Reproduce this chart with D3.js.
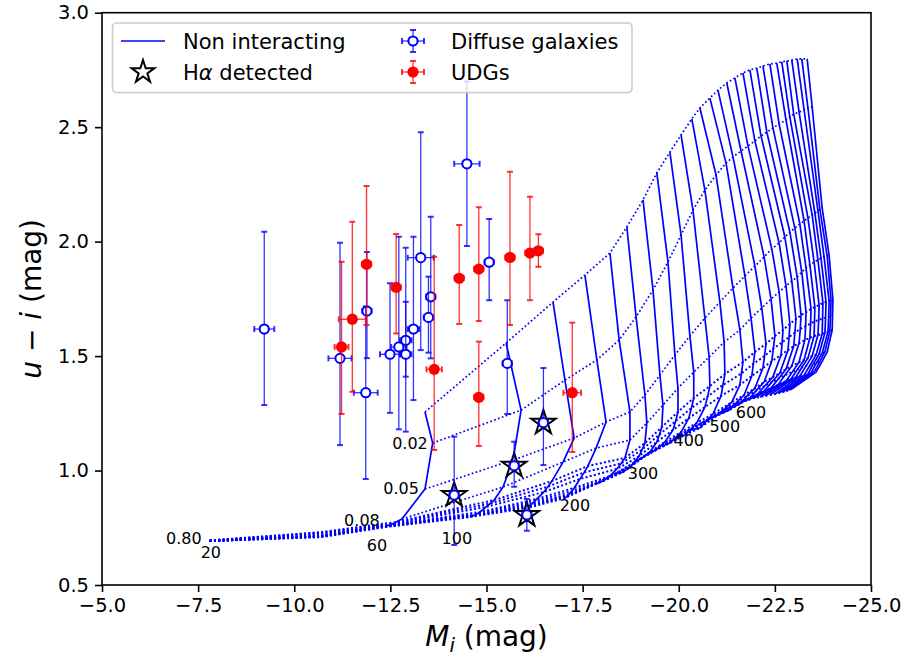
<!DOCTYPE html>
<html>
<head>
<meta charset="utf-8">
<script src="https://cdn.jsdelivr.net/npm/d3@7"></script>
<style>
  body { margin: 0; background: #fff; }
  svg { display: block; font-family: "DejaVu Sans", sans-serif; }
</style>
</head>
<body>
<svg id="chart" width="903" height="660"></svg>
<script>
// ---------------------------------------------------------------
// Model grid ("Non interacting"): one array per iso-line (dotted),
// one entry per track column (solid). Entries are [M_i, u-i].
// Columns 0 and 1 (lowest tracks) only exist in the lower band.
// ---------------------------------------------------------------
const lvlTop = [null, null,
  [-13.40,1.256],[-15.51,1.557],[-16.73,1.736],[-17.56,1.854],[-18.21,1.950],[-18.65,2.064],
  [-19.07,2.182],[-19.43,2.300],[-19.77,2.391],[-20.06,2.466],[-20.34,2.536],[-20.55,2.584],
  [-20.81,2.627],[-21.02,2.662],[-21.25,2.693],[-21.46,2.715],[-21.67,2.737],[-21.85,2.750],
  [-22.03,2.758],[-22.19,2.767],[-22.37,2.776],[-22.55,2.780],[-22.68,2.785],[-22.81,2.789],
  [-22.94,2.793],[-23.08,2.798],[-23.20,2.798],[-23.34,2.798]];

const lvl002 = [null, null,
  [-13.60,1.120],[-15.90,1.264],[-17.04,1.395],[-17.87,1.483],[-18.45,1.570],[-18.89,1.671],
  [-19.33,1.789],[-19.72,1.911],[-20.06,2.029],[-20.37,2.138],[-20.68,2.225],[-20.97,2.291],
  [-21.23,2.343],[-21.41,2.370],[-21.62,2.396],[-21.80,2.418],[-21.98,2.440],[-22.14,2.461],
  [-22.29,2.479],[-22.45,2.496],[-22.61,2.514],[-22.79,2.531],[-22.89,2.544],[-22.99,2.557],
  [-23.13,2.566],[-23.26,2.575],[-23.36,2.584],[-23.47,2.588]];

const lvl005 = [null, null,
  [-13.40,0.919],[-15.69,1.046],[-17.28,1.142],[-18.11,1.212],[-18.73,1.256],[-19.12,1.330],
  [-19.51,1.417],[-19.90,1.505],[-20.29,1.588],[-20.68,1.666],[-21.07,1.736],[-21.41,1.797],
  [-21.72,1.850],[-21.98,1.893],[-22.22,1.933],[-22.42,1.968],[-22.61,1.994],[-22.76,2.020],
  [-22.89,2.042],[-23.02,2.059],[-23.15,2.077],[-23.26,2.090],[-23.36,2.103],[-23.47,2.116],
  [-23.54,2.125],[-23.62,2.134],[-23.67,2.142],[-23.73,2.147]];

const lvl008 = [null, null,
  [-12.80,0.788],[-15.43,0.928],[-16.99,1.037],[-17.85,1.098],[-18.73,1.133],[-19.17,1.208],
  [-19.59,1.286],[-19.98,1.360],[-20.39,1.430],[-20.79,1.496],[-21.18,1.561],[-21.59,1.614],
  [-21.88,1.666],[-22.16,1.710],[-22.40,1.749],[-22.61,1.780],[-22.79,1.806],[-22.94,1.828],
  [-23.08,1.845],[-23.20,1.867],[-23.31,1.885],[-23.41,1.898],[-23.52,1.911],[-23.62,1.920],
  [-23.70,1.928],[-23.78,1.933],[-23.86,1.937],[-23.91,1.941]];

const lvl016 = [[-7.80,0.695],[-10.70,0.731],
  [-12.65,0.775],[-15.20,0.871],[-16.70,0.954],[-17.64,1.020],[-18.60,1.055],[-19.12,1.120],
  [-19.56,1.190],[-19.98,1.256],[-20.39,1.317],[-20.81,1.369],[-21.20,1.422],[-21.67,1.474],
  [-21.98,1.518],[-22.27,1.553],[-22.50,1.588],[-22.71,1.614],[-22.89,1.640],[-23.05,1.662],
  [-23.18,1.679],[-23.31,1.692],[-23.44,1.706],[-23.54,1.714],[-23.65,1.723],[-23.75,1.732],
  [-23.83,1.736],[-23.91,1.740],[-23.96,1.745],[-24.01,1.745]];

const lvl024 = [[-7.80,0.694],[-10.70,0.728],
  [-12.60,0.770],[-15.10,0.856],[-16.60,0.930],[-17.54,0.992],[-18.50,1.031],[-19.05,1.092],
  [-19.50,1.158],[-19.92,1.216],[-20.33,1.273],[-20.75,1.323],[-21.15,1.374],[-21.63,1.424],
  [-21.94,1.466],[-22.23,1.500],[-22.46,1.533],[-22.69,1.560],[-22.87,1.583],[-23.02,1.603],
  [-23.16,1.618],[-23.30,1.631],[-23.43,1.642],[-23.53,1.651],[-23.64,1.658],[-23.74,1.664],
  [-23.82,1.668],[-23.90,1.672],[-23.95,1.677],[-24.00,1.680]];

const lvl032 = [[-7.80,0.694],[-10.70,0.725],
  [-12.54,0.766],[-14.99,0.841],[-16.49,0.906],[-17.43,0.963],[-18.39,1.007],[-18.97,1.063],
  [-19.43,1.125],[-19.85,1.177],[-20.26,1.229],[-20.68,1.277],[-21.10,1.326],[-21.59,1.374],
  [-21.90,1.413],[-22.19,1.448],[-22.42,1.478],[-22.66,1.505],[-22.84,1.526],[-22.99,1.544],
  [-23.13,1.557],[-23.28,1.570],[-23.41,1.579],[-23.52,1.588],[-23.62,1.592],[-23.73,1.596],
  [-23.80,1.601],[-23.88,1.605],[-23.93,1.609],[-23.99,1.614]];

const lvl040 = [[-7.80,0.693],[-10.70,0.718],
  [-12.47,0.762],[-14.83,0.819],[-16.31,0.876],[-17.28,0.924],[-18.21,0.976],[-18.76,1.020],
  [-19.25,1.081],[-19.64,1.125],[-20.06,1.168],[-20.47,1.208],[-20.89,1.247],[-21.38,1.299],
  [-21.70,1.330],[-21.98,1.360],[-22.22,1.387],[-22.45,1.409],[-22.63,1.426],[-22.79,1.443],
  [-22.94,1.457],[-23.13,1.474],[-23.26,1.483],[-23.36,1.491],[-23.47,1.500],[-23.57,1.505],
  [-23.65,1.509],[-23.73,1.513],[-23.80,1.518],[-23.86,1.518]];

const lvl048 = [[-7.80,0.692],[-10.70,0.716],
  [-12.44,0.760],[-14.77,0.812],[-16.25,0.865],[-17.22,0.910],[-18.12,0.965],[-18.66,1.006],
  [-19.15,1.068],[-19.53,1.108],[-19.92,1.144],[-20.32,1.182],[-20.72,1.216],[-21.20,1.271],
  [-21.50,1.297],[-21.78,1.326],[-22.02,1.350],[-22.24,1.370],[-22.42,1.386],[-22.60,1.402],
  [-22.76,1.416],[-22.96,1.432],[-23.09,1.442],[-23.20,1.450],[-23.31,1.456],[-23.42,1.461],
  [-23.50,1.466],[-23.58,1.470],[-23.66,1.474],[-23.72,1.474]];

const lvl056 = [[-7.80,0.692],[-10.70,0.714],
  [-12.41,0.758],[-14.70,0.806],[-16.18,0.854],[-17.15,0.897],[-18.03,0.954],[-18.55,0.993],
  [-19.04,1.055],[-19.41,1.090],[-19.77,1.120],[-20.16,1.155],[-20.55,1.186],[-21.02,1.243],
  [-21.31,1.264],[-21.59,1.291],[-21.83,1.313],[-22.03,1.330],[-22.22,1.347],[-22.40,1.360],
  [-22.58,1.374],[-22.79,1.391],[-22.92,1.400],[-23.05,1.409],[-23.15,1.413],[-23.26,1.417],
  [-23.36,1.422],[-23.44,1.426],[-23.52,1.430],[-23.57,1.430]];

const lvl064 = [[-7.80,0.692],[-10.70,0.712],
  [-12.39,0.756],[-14.66,0.803],[-16.14,0.848],[-17.11,0.891],[-17.96,0.950],[-18.48,0.990],
  [-18.96,1.048],[-19.34,1.084],[-19.70,1.116],[-20.07,1.151],[-20.44,1.182],[-20.85,1.228],
  [-21.13,1.251],[-21.39,1.276],[-21.63,1.298],[-21.83,1.315],[-22.02,1.331],[-22.20,1.343],
  [-22.37,1.355],[-22.56,1.368],[-22.69,1.375],[-22.82,1.383],[-22.93,1.387],[-23.04,1.391],
  [-23.14,1.396],[-23.22,1.400],[-23.30,1.404],[-23.36,1.405]];

const lvl072 = [[-7.80,0.692],[-10.70,0.711],
  [-12.38,0.755],[-14.61,0.800],[-16.09,0.842],[-17.08,0.886],[-17.89,0.945],[-18.41,0.988],
  [-18.89,1.040],[-19.27,1.078],[-19.63,1.111],[-19.99,1.146],[-20.32,1.177],[-20.67,1.214],
  [-20.94,1.238],[-21.20,1.262],[-21.43,1.284],[-21.64,1.301],[-21.82,1.315],[-22.00,1.325],
  [-22.17,1.336],[-22.34,1.344],[-22.47,1.351],[-22.60,1.356],[-22.72,1.360],[-22.83,1.365],
  [-22.93,1.369],[-23.01,1.373],[-23.09,1.378],[-23.15,1.381]];

const lvl080 = [[-7.80,0.692],[-10.70,0.709],
  [-12.36,0.753],[-14.57,0.797],[-16.05,0.836],[-17.04,0.880],[-17.82,0.941],[-18.34,0.985],
  [-18.81,1.033],[-19.20,1.072],[-19.56,1.107],[-19.90,1.142],[-20.21,1.173],[-20.50,1.199],
  [-20.76,1.225],[-21.00,1.247],[-21.23,1.269],[-21.44,1.286],[-21.62,1.299],[-21.80,1.308],
  [-21.96,1.317],[-22.11,1.321],[-22.24,1.326],[-22.37,1.330],[-22.50,1.334],[-22.61,1.339],
  [-22.71,1.343],[-22.79,1.347],[-22.87,1.352],[-22.94,1.356]];

// Grid annotations: text, M_i, u-i (text centre)
const gridLabelText = ["0.80", "20", "0.08", "60", "100", "0.05", "0.02", "200", "300", "400", "500", "600"];
const gridLabelMi   = [-7.13, -7.83, -11.76, -12.15, -14.23, -12.78, -13.01, -17.30, -19.07, -20.26, -21.20, -21.88];
const gridLabelUI   = [0.705, 0.645, 0.784, 0.675, 0.705, 0.924, 1.120, 0.849, 0.989, 1.133, 1.194, 1.256];

// ---------------------------------------------------------------
// Diffuse galaxies (open blue circles); last four are Hα detected
// ---------------------------------------------------------------
const diffuseMi    = [-9.22, -11.19, -11.89, -11.86, -12.49, -12.72, -12.90, -12.90, -13.10, -13.29, -13.55, -13.49, -14.49, -15.07, -15.54, -14.16, -15.72, -16.48, -16.05];
const diffuseUI    = [1.618, 1.490, 1.697, 1.340, 1.508, 1.540, 1.569, 1.508, 1.618, 1.930, 1.759, 1.669, 2.340, 1.910, 1.468, 0.893, 1.021, 1.209, 0.806];
const diffuseUIlo  = [1.286, 1.111, 1.491, 0.963, 1.252, 1.180, 1.170, 1.410, 1.308, 1.526, 1.490, 1.515, 1.981, 1.744, 1.247, 0.675, 0.929, 1.024, 0.737];
const diffuseUIhi  = [2.043, 1.995, 1.955, 1.717, 1.818, 2.021, 1.973, 1.737, 2.021, 2.478, 2.109, 1.847, 2.700, 2.099, 1.744, 1.148, 1.126, 1.448, 0.876];
const diffuseMiErr = [0.26, 0.30, 0.12, 0.31, 0.26, 0.20, 0.15, 0.15, 0.15, 0.34, 0.12, 0.12, 0.33, 0.12, 0.12, 0.12, 0.12, 0.12, 0.12];
const diffuseHa    = [false, false, false, false, false, false, false, false, false, false, false, false, false, false, false, true, true, true, true];

// UDGs (filled red circles)
const udgMi    = [-11.23, -11.51, -11.88, -12.65, -13.64, -14.29, -14.80, -14.80, -15.61, -16.13, -16.35, -17.23];
const udgUI    = [1.540, 1.661, 1.901, 1.800, 1.442, 1.840, 1.880, 1.320, 1.931, 1.950, 1.960, 1.340];
const udgUIlo  = [1.247, 1.344, 1.636, 1.599, 1.090, 1.640, 1.653, 1.107, 1.636, 1.744, 1.890, 1.081];
const udgUIhi  = [1.912, 2.087, 2.243, 2.033, 1.934, 2.073, 2.150, 1.563, 2.305, 2.196, 2.032, 1.646];
const udgMiErr = [0.18, 0.35, 0.12, 0.12, 0.20, 0.12, 0.12, 0.12, 0.12, 0.12, 0.12, 0.23];

// Axis ticks
const xTickValues = [-5, -7.5, -10, -12.5, -15, -17.5, -20, -22.5, -25];
const yTickValues = [0.5, 1.0, 1.5, 2.0, 2.5, 3.0];

// Colours
const BLUE = "#0000ff";
const RED = "#ff0000";

// ---------------------------------------------------------------
const svg = d3.select("#chart");
const plot = { left: 102, right: 871, top: 12.7, bottom: 585 };

const x = d3.scaleLinear().domain([-5, -25]).range([plot.left, plot.right]);
const y = d3.scaleLinear().domain([0.5, 3.0]).range([plot.bottom, plot.top]);

svg.append("defs").append("clipPath").attr("id", "plotclip")
  .append("rect")
  .attr("x", plot.left).attr("y", plot.top)
  .attr("width", plot.right - plot.left).attr("height", plot.bottom - plot.top);

const g = svg.append("g").attr("clip-path", "url(#plotclip)");

// --- model grid ---
const upperLevels = [lvlTop, lvl002, lvl005, lvl008];
const bandLevels = [lvl016, lvl024, lvl032, lvl040, lvl048, lvl056, lvl064, lvl072, lvl080];
const levels = upperLevels.concat(bandLevels);
const gridLine = d3.line()
  .defined(d => d != null)
  .x(d => x(d[0]))
  .y(d => y(d[1]));

// dotted iso-lines; the crowded lower band uses slightly heavier dots
upperLevels.forEach(lv => {
  g.append("path")
    .attr("d", gridLine(lv))
    .attr("fill", "none")
    .attr("stroke", BLUE)
    .attr("stroke-width", 1.7)
    .attr("stroke-dasharray", "1.7,2.4");
});
bandLevels.forEach(lv => {
  g.append("path")
    .attr("d", gridLine(lv))
    .attr("fill", "none")
    .attr("stroke", BLUE)
    .attr("stroke-width", 2.0)
    .attr("stroke-dasharray", "2,2.3");
});

// solid tracks (one per column)
const nCols = lvl080.length;
for (let i = 0; i < nCols; i++) {
  const pts = levels.map(lv => lv[i]).filter(p => p != null);
  if (pts.length < levels.length) continue;
  g.append("path")
    .attr("d", gridLine(pts))
    .attr("fill", "none")
    .attr("stroke", BLUE)
    .attr("stroke-width", 1.7)
    .attr("stroke-linejoin", "round");
}

// grid annotations
gridLabelText.forEach((t, i) => {
  svg.append("text")
    .attr("x", x(gridLabelMi[i]))
    .attr("y", y(gridLabelUI[i]))
    .attr("text-anchor", "middle")
    .attr("dy", "0.36em")
    .attr("font-size", 16)
    .attr("fill", "#000")
    .text(t);
});

// --- Hα detected stars (beneath the circles) ---
const starSym = d3.symbol().type(d3.symbolStar);
diffuseMi.forEach((m, i) => {
  if (!diffuseHa[i]) return;
  g.append("path")
    .attr("d", starSym.size(185)())
    .attr("transform", `translate(${x(m)},${y(diffuseUI[i])})`)
    .attr("fill", "#fff")
    .attr("stroke", "#000")
    .attr("stroke-width", 2)
    .attr("stroke-linejoin", "miter");
});

// --- error bars helper ---
function errorBar(cx, cy, yLo, yHi, xLo, xHi, color) {
  const eb = g.append("g").attr("stroke", color).attr("stroke-opacity", 0.8);
  eb.append("line").attr("x1", cx).attr("x2", cx).attr("y1", yLo).attr("y2", yHi).attr("stroke-width", 1.3);
  eb.append("line").attr("x1", xLo).attr("x2", xHi).attr("y1", cy).attr("y2", cy).attr("stroke-width", 1.3);
  const cap = 3;
  [yLo, yHi].forEach(yy => eb.append("line").attr("x1", cx - cap).attr("x2", cx + cap).attr("y1", yy).attr("y2", yy).attr("stroke-width", 2));
  [xLo, xHi].forEach(xx => eb.append("line").attr("x1", xx).attr("x2", xx).attr("y1", cy - cap).attr("y2", cy + cap).attr("stroke-width", 2));
}

// --- diffuse galaxies ---
diffuseMi.forEach((m, i) => {
  errorBar(x(m), y(diffuseUI[i]), y(diffuseUIlo[i]), y(diffuseUIhi[i]),
           x(m + diffuseMiErr[i]), x(m - diffuseMiErr[i]), BLUE);
  g.append("circle")
    .attr("cx", x(m)).attr("cy", y(diffuseUI[i])).attr("r", 4.6)
    .attr("fill", "#fff").attr("stroke", BLUE).attr("stroke-width", 2);
});

// --- UDGs ---
udgMi.forEach((m, i) => {
  errorBar(x(m), y(udgUI[i]), y(udgUIlo[i]), y(udgUIhi[i]),
           x(m + udgMiErr[i]), x(m - udgMiErr[i]), RED);
  g.append("circle")
    .attr("cx", x(m)).attr("cy", y(udgUI[i])).attr("r", 5.6)
    .attr("fill", RED);
});

// --- axes ---
const xAxis = d3.axisBottom(x).tickValues(xTickValues).tickFormat(d3.format(".1f")).tickSize(7).tickPadding(6);
const yAxis = d3.axisLeft(y).tickValues(yTickValues).tickFormat(d3.format(".1f")).tickSize(7).tickPadding(6);

const gx = svg.append("g").attr("transform", `translate(0,${plot.bottom})`).call(xAxis);
const gy = svg.append("g").attr("transform", `translate(${plot.left},0)`).call(yAxis);
[gx, gy].forEach(a => {
  a.select(".domain").remove();
  a.selectAll(".tick line").attr("stroke", "#000").attr("stroke-width", 1.6);
  a.selectAll(".tick text").attr("fill", "#000").attr("font-size", 19.5)
    .attr("font-family", "DejaVu Sans, sans-serif");
});

// frame
svg.append("rect")
  .attr("x", plot.left).attr("y", plot.top)
  .attr("width", plot.right - plot.left).attr("height", plot.bottom - plot.top)
  .attr("fill", "none").attr("stroke", "#000").attr("stroke-width", 1.6);

// axis labels
const xl = svg.append("text")
  .attr("x", (plot.left + plot.right) / 2).attr("y", 646)
  .attr("text-anchor", "middle").attr("font-size", 28).attr("fill", "#000");
xl.append("tspan").attr("font-style", "italic").text("M");
xl.append("tspan").attr("font-style", "italic").attr("font-size", 19.6).attr("dy", 6).text("i");
xl.append("tspan").attr("dy", -6).text(" (mag)");

const yl = svg.append("text")
  .attr("transform", `translate(41,${(plot.top + plot.bottom) / 2}) rotate(-90)`)
  .attr("text-anchor", "middle").attr("font-size", 28).attr("fill", "#000");
yl.append("tspan").attr("font-style", "italic").text("u");
yl.append("tspan").text(" \u2212 ");
yl.append("tspan").attr("font-style", "italic").text("i");
yl.append("tspan").text(" (mag)");

// --- legend ---
const leg = svg.append("g");
leg.append("rect")
  .attr("x", 112.5).attr("y", 23).attr("width", 519.5).attr("height", 69.5).attr("rx", 4)
  .attr("fill", "#fff").attr("fill-opacity", 0.8)
  .attr("stroke", "#cccccc").attr("stroke-width", 1.6);

const row1 = 41, row2 = 72;
const legFont = 21;
// Non interacting
leg.append("line").attr("x1", 121).attr("x2", 165).attr("y1", row1).attr("y2", row1)
  .attr("stroke", BLUE).attr("stroke-width", 1.7);
leg.append("text").attr("x", 183).attr("y", row1).attr("dy", "0.36em").attr("font-size", legFont).text("Non interacting");
// Hα detected
leg.append("path").attr("d", starSym.size(160)())
  .attr("transform", `translate(143,${row2})`)
  .attr("fill", "#fff").attr("stroke", "#000").attr("stroke-width", 2);
const haText = leg.append("text").attr("x", 183).attr("y", row2).attr("dy", "0.36em").attr("font-size", legFont);
haText.append("tspan").text("H");
haText.append("tspan").attr("font-style", "italic").text("\u03b1");
haText.append("tspan").text(" detected");

function legendErr(cx, cy, color, filled) {
  const e = leg.append("g").attr("stroke", color).attr("stroke-opacity", 0.8);
  const h = 11, cap = 3;
  e.append("line").attr("x1", cx).attr("x2", cx).attr("y1", cy - h).attr("y2", cy + h).attr("stroke-width", 1.3);
  e.append("line").attr("x1", cx - h).attr("x2", cx + h).attr("y1", cy).attr("y2", cy).attr("stroke-width", 1.3);
  [cy - h, cy + h].forEach(yy => e.append("line").attr("x1", cx - cap).attr("x2", cx + cap).attr("y1", yy).attr("y2", yy).attr("stroke-width", 2));
  [cx - h, cx + h].forEach(xx => e.append("line").attr("x1", xx).attr("x2", xx).attr("y1", cy - cap).attr("y2", cy + cap).attr("stroke-width", 2));
  if (filled) {
    leg.append("circle").attr("cx", cx).attr("cy", cy).attr("r", 5.6).attr("fill", color);
  } else {
    leg.append("circle").attr("cx", cx).attr("cy", cy).attr("r", 4.6).attr("fill", "#fff").attr("stroke", color).attr("stroke-width", 2);
  }
}
legendErr(413, row1, BLUE, false);
leg.append("text").attr("x", 451).attr("y", row1).attr("dy", "0.36em").attr("font-size", legFont).text("Diffuse galaxies");
legendErr(413, row2, RED, true);
leg.append("text").attr("x", 451).attr("y", row2).attr("dy", "0.36em").attr("font-size", legFont).text("UDGs");
</script>
</body>
</html>
